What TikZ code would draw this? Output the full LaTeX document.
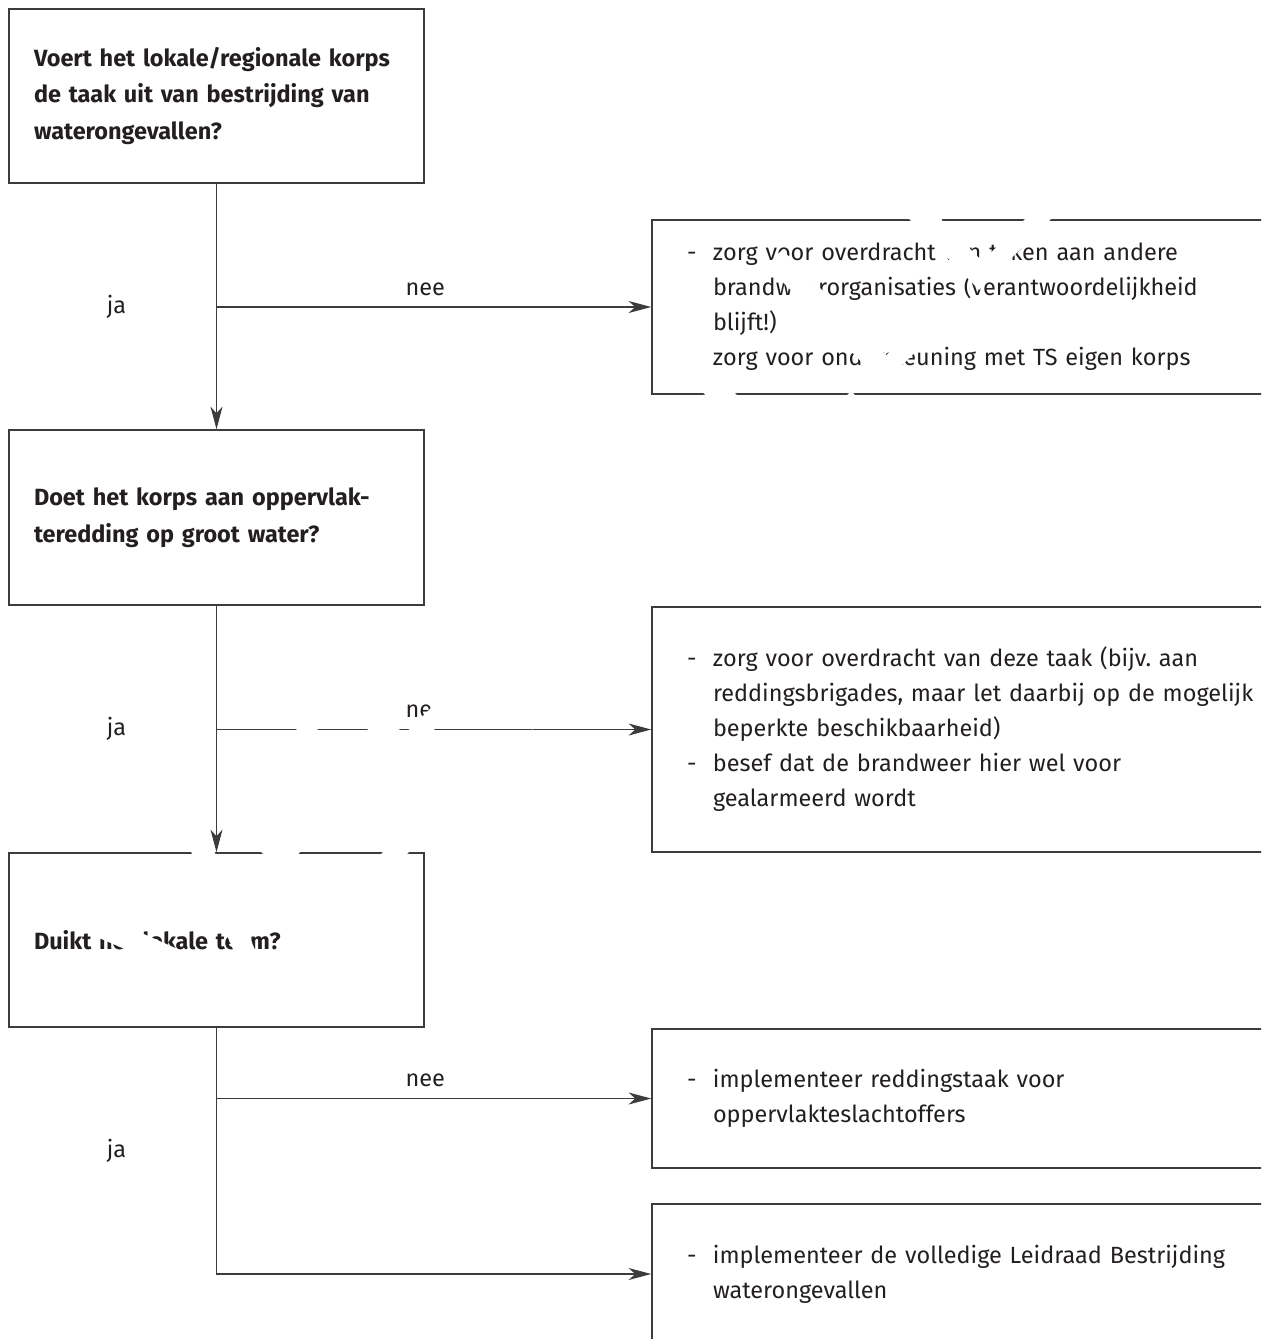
\documentclass[tikz,border=0pt]{standalone}
\usepackage{fontspec}
\setmainfont{Fira Sans}
\newfontfamily\wmfont{Liberation Sans}
\usetikzlibrary{arrows.meta,positioning}
\definecolor{ink}{HTML}{231F20}
\definecolor{linegray}{HTML}{3C3C3C}
\newcommand{\qfont}{\fontsize{17.6}{27.4}\bfseries\selectfont}
\newcommand{\afont}{\fontsize{17.6}{26.25}\selectfont}
\newcommand{\itm}{\makebox[19.5pt][l]{-}}
\newcommand{\ind}{\hspace*{19.5pt}}

\begin{document}
\begin{tikzpicture}[x=0.75pt,y=-0.75pt,inner sep=0pt,text=ink]
  \useasboundingbox (0,0) rectangle (1261,1339);
  \clip (0,0) rectangle (1261,1339);
  \tikzstyle{qbox}=[rectangle,draw=linegray,line width=1.1pt,minimum width=311.25pt,inner xsep=18.75pt,text width=273.75pt,align=left,font=\qfont]
  \tikzstyle{abox}=[rectangle,draw=linegray,line width=1.1pt,minimum width=525pt,inner xsep=26.25pt,text width=472.5pt,align=left,font=\afont]
  % vragen
  \node[qbox,minimum height=130.5pt](q1)at(216.5,96){Voert het lokale/regionale korps\\de taak uit van bestrijding van\\waterongevallen?};
  \node[qbox,minimum height=131.25pt](q2)at(216.5,517.5){Doet het korps aan oppervlak-\\teredding op groot water?};
  \node[qbox,minimum height=130.5pt](q3)at(216.5,940){Duikt het lokale team?};
  % acties
  \node[abox,minimum height=130.5pt](a1)at(1002,307){\itm zorg voor overdracht van taken aan andere\\\ind brandweerorganisaties (verantwoordelijkheid\\\ind blijft!)\\\itm zorg voor ondersteuning met TS eigen korps};
  \node[abox,minimum height=183.75pt](a2)at(1002,729.5){\itm zorg voor overdracht van deze taak (bijv.\ aan\\\ind reddingsbrigades, maar let daarbij op de mogelijk\\\ind beperkte beschikbaarheid)\\\itm besef dat de brandweer hier wel voor\\\ind gealarmeerd wordt};
  \node[abox,minimum height=104.25pt](a3)at(1002,1098.5){\itm implementeer reddingstaak voor\\\ind oppervlakteslachtoffers};
  \node[abox,minimum height=105pt](a4)at(1002,1274){\itm implementeer de volledige Leidraad Bestrijding\\\ind waterongevallen};
  \tikzstyle{e}=[-{Stealth[length=17pt,width=9pt,inset=5pt]},draw=linegray,line width=1.1pt,font=\afont]
  \foreach\o/\d in{q1/q2,q2/q3}{\draw[e](\o)--node[xshift=-75pt]{ja}(\d);}
  \foreach\o/\d in{q1/a1,q2/a2,q3/a3}{\draw[e](\o.south|-\d)--node[pos=.48,above=8pt]{nee}(\d.west);}
  \draw[e](q3)|-node[pos=.25,xshift=-75pt]{ja}(a4);
  % watermerk
  \node[text=white,font=\wmfont\fontsize{181.5}{181.5}\selectfont,rotate=44.6,anchor=base west](wm)at(205.6,1053.6){VERVALLEN};
\end{tikzpicture}
\end{document}
